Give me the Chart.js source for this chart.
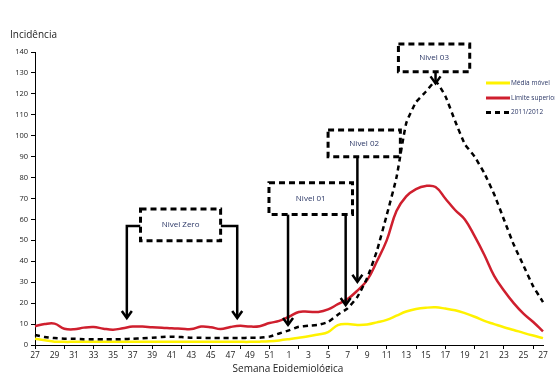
<!DOCTYPE html>
<html><head><meta charset="utf-8">
<script src="https://cdn.jsdelivr.net/npm/chart.js@4.4.0/dist/chart.umd.min.js"></script>
<style>html,body{margin:0;padding:0;background:#fff}#wrap{width:555px;height:372px}</style>
</head><body><div id="wrap"><canvas id="c" width="555" height="372"></canvas></div>
<script>
const weeks = [27,28,29,30,31,32,33,34,35,36,37,38,39,40,41,42,43,44,45,46,47,48,49,50,51,52,
  1,2,3,4,5,6,7,8,9,10,11,12,13,14,15,16,17,18,19,20,21,22,23,24,25,26,27];
const mediaMovel = [3,2.3,1.6,1.5,1.5,1.5,1.5,1.5,1.5,1.5,1.5,1.5,1.5,1.5,1.5,1.5,1.5,1.5,1.5,1.5,1.5,1.5,1.5,
  1.6,1.8,2.2,2.8,3.5,4.2,5,6.2,9.5,10,9.6,9.8,10.8,12,14,16,17.2,17.8,18,17.4,16.6,15.2,13.5,11.5,10,8.5,7.2,5.8,4.5,3.3];
const limiteSuperior = [9,10,10.2,7.8,7.5,8.3,8.6,7.8,7.3,8,8.8,8.8,8.5,8.3,8,7.8,7.6,8.8,8.5,7.6,8.6,9.2,8.8,9,10.5,
  11.5,13.5,15.8,15.9,15.8,17,19.5,22,26,31,40,50,64,71,74.5,76,75.5,70,64.5,60,52,43,33,26,20,15,11,6.5];
const serie2011 = [4.8,3.8,3.3,3,3,2.8,2.8,2.7,2.7,2.8,3,3.2,3.5,3.8,4,3.8,3.5,3.5,3.3,3.3,3.3,3.3,3.5,3.5,4,
  5.5,7,8.7,9.2,9.6,11,14.5,17.5,23,32,45,62,80,106,116,121,126,119,107,96,90,82,72,60,48,38,28,20.5];
const yTicks = [0,10,20,30,40,50,60,70,80,90,100,110,120,130,140];

// annotation geometry in data units (x = week index, y = incidence)
const annotations = [
  {text:'Nivel Zero', box:[10.8,19.0,65,49.8], arrows:[[[10.8,56.9],[9.4,56.9],[9.4,12.9]], [[19.0,56.9],[20.7,56.9],[20.7,12.9]]]},
  {text:'Nivel 01', box:[23.95,32.5,77.5,62.4], arrows:[[[25.9,62.4],[25.9,9.6]], [[31.8,62.4],[31.8,19.1]]]},
  {text:'Nivel 02', box:[30,37.4,102.7,90], arrows:[[[33,90],[33,30.2]]]},
  {text:'Nivel 03', box:[37.2,44.5,143.8,130.6], arrows:[[[41,130.6],[41,125]]]}
];

const YELLOW = '#fff200', RED = '#cf1f2e', BLACK = '#000', NAVY = '#2b3766';
const FONT = '"Open Sans", "Liberation Sans", sans-serif';

const deco = {
  id:'deco',
  afterDatasetsDraw(chart){
    const ctx = chart.ctx, xs = chart.scales.x, ys = chart.scales.y;
    const X = v => xs.getPixelForValue(v), Y = v => ys.getPixelForValue(v);
    ctx.save();
    annotations.forEach(a => {
      ctx.lineCap = 'butt'; ctx.lineJoin = 'miter';
      ctx.strokeStyle = BLACK; ctx.lineWidth = 2.5; ctx.setLineDash([]);
      a.arrows.forEach(p => {
        ctx.beginPath();
        p.forEach((pt,i) => { const px = X(pt[0]), py = Y(pt[1]); if(i===0) ctx.moveTo(px,py); else ctx.lineTo(px,py); });
        ctx.stroke();
        const tip = p[p.length-1], tx = X(tip[0]), ty = Y(tip[1]);
        ctx.beginPath(); ctx.moveTo(tx-5, ty-7); ctx.lineTo(tx, ty); ctx.lineTo(tx+5, ty-7); ctx.stroke();
      });
      const x1 = X(a.box[0]), x2 = X(a.box[1]), y1 = Y(a.box[2]), y2 = Y(a.box[3]);
      ctx.fillStyle = '#fff'; ctx.fillRect(x1, y1, x2-x1, y2-y1);
      ctx.setLineDash([6,4]); ctx.lineWidth = 3; ctx.strokeRect(x1, y1, x2-x1, y2-y1);
      ctx.setLineDash([]);
      ctx.fillStyle = NAVY; ctx.font = '8px ' + FONT; ctx.textAlign = 'center'; ctx.textBaseline = 'middle';
      ctx.fillText(a.text, (x1+x2)/2, (y1+y2)/2);
    });
    const items = [
      {label:'Média móvel', color:YELLOW, dash:[], y:83},
      {label:'Limite superior', color:RED, dash:[], y:98},
      {label:'2011/2012', color:BLACK, dash:[5,4], y:112.5}
    ];
    items.forEach(it => {
      ctx.strokeStyle = it.color; ctx.lineWidth = 3; ctx.setLineDash(it.dash);
      ctx.beginPath(); ctx.moveTo(486, it.y); ctx.lineTo(510, it.y); ctx.stroke();
      ctx.setLineDash([]);
      ctx.fillStyle = NAVY; ctx.font = '6.5px ' + FONT; ctx.textAlign = 'left'; ctx.textBaseline = 'middle';
      ctx.fillText(it.label, 511, it.y);
    });
    ctx.fillStyle = '#222'; ctx.font = '10px ' + FONT; ctx.textAlign = 'left'; ctx.textBaseline = 'middle';
    ctx.fillText('Incidência', 10, 35);
    ctx.textAlign = 'center';
    ctx.fillText('Semana Epidemiológica', 288, 369);
    ctx.restore();
  }
};

new Chart(document.getElementById('c'), {
  type:'line',
  data:{
    labels: weeks,
    datasets:[
      {label:'2011/2012', data:serie2011, borderColor:BLACK, borderWidth:2.5, borderDash:[5,4], tension:0.15, pointRadius:0, fill:false},
      {label:'Limite superior', data:limiteSuperior, borderColor:RED, borderWidth:2.5, tension:0.4, pointRadius:0, fill:false},
      {label:'Média móvel', data:mediaMovel, borderColor:YELLOW, borderWidth:2.5, tension:0.4, pointRadius:0, fill:false}
    ]
  },
  options:{
    responsive:false, animation:false, devicePixelRatio:1,
    layout:{padding:{left:0,right:12,top:52,bottom:0}},
    plugins:{legend:{display:false}, tooltip:{enabled:false}},
    scales:{
      x:{
        type:'category', offset:false,
        ticks:{autoSkip:false, maxRotation:0, minRotation:0, padding:1, color:'#222',
          font:{family:FONT, size:8.5},
          callback:(v,i)=> i%2===0 ? String(weeks[i]) : ''},
        grid:{drawOnChartArea:false, tickLength:4, lineWidth:1,
          color: c => (c.index%3===0 ? '#000' : 'rgba(0,0,0,0)')},
        border:{color:'#000', width:1},
        afterFit: s => { s.height = 27; }
      },
      y:{
        min:0, max:140,
        afterBuildTicks: s => { s.ticks = yTicks.map(v => ({value:v})); },
        ticks:{padding:3, color:'#222', font:{family:FONT, size:7.5}},
        grid:{drawOnChartArea:false, tickLength:4, color:'#000'},
        border:{color:'#000', width:1},
        afterFit: s => { s.width = 35; }
      }
    }
  },
  plugins:[deco]
});
</script></body></html>
